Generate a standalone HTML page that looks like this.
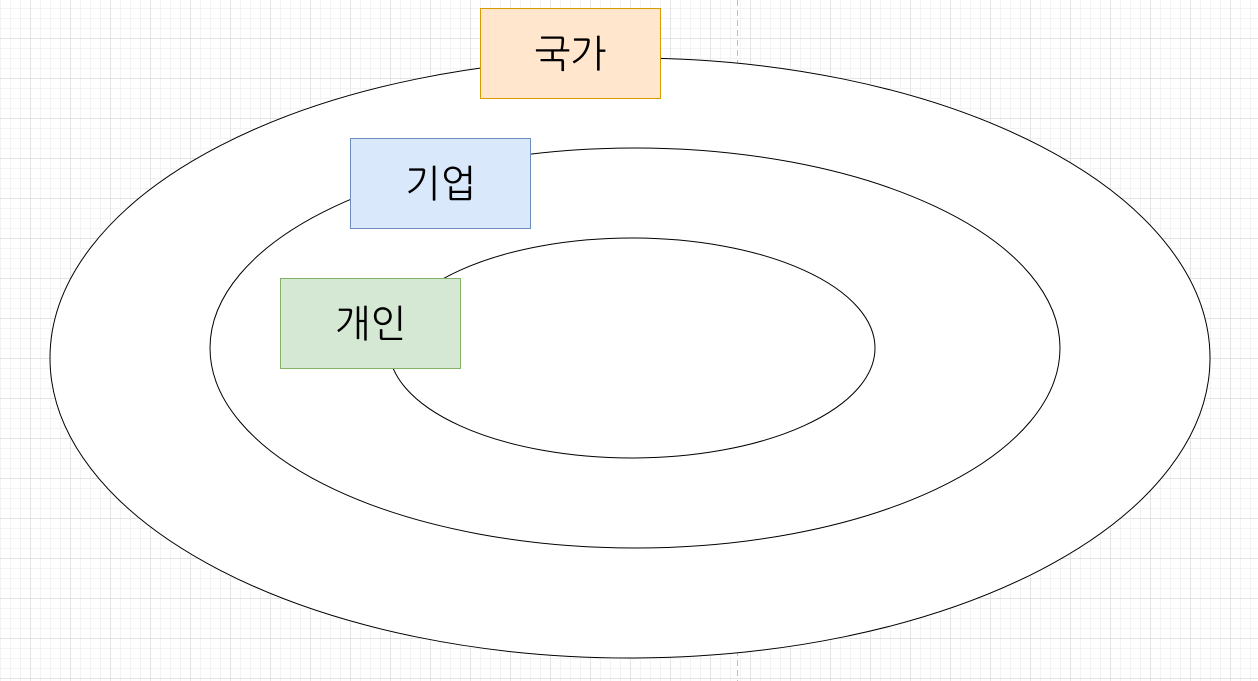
<!DOCTYPE html>
<html><head><meta charset="utf-8"><style>
html,body{margin:0;padding:0;width:1258px;height:681px;overflow:hidden;background:#fff}
.bg{position:absolute;left:0;top:0;width:1258px;height:681px;
background-image:
linear-gradient(to right,#e4e4e4 1px,transparent 1px),
linear-gradient(to bottom,#e4e4e4 1px,transparent 1px),
linear-gradient(to right,#f3f3f3 1px,transparent 1px),
linear-gradient(to bottom,#f3f3f3 1px,transparent 1px);
background-size:40px 40px,40px 40px,10px 10px,10px 10px;
background-position:30px 38px,30px 38px,0px 8px,0px 8px;}
.box{position:absolute;width:181px;height:91px;display:flex;align-items:center;justify-content:center;font-family:"Liberation Sans","NanumGothic","Noto Sans CJK KR",sans-serif;font-size:38px;color:#000;box-sizing:border-box}
</style></head><body>
<div class="bg"></div>
<svg style="position:absolute;left:0;top:0" width="1258" height="681">
<line x1="737.5" y1="0" x2="737.5" y2="681" stroke="#bbb" stroke-dasharray="6,4"/>
<ellipse cx="630" cy="358" rx="580" ry="300" fill="#fff" stroke="#000"/>
<ellipse cx="635" cy="348" rx="425" ry="200" fill="#fff" stroke="#000"/>
<ellipse cx="632" cy="348" rx="243" ry="110" fill="#fff" stroke="#000"/>
</svg>
<div class="box" style="left:480px;top:8px;background:#ffe6cc;border:1px solid #d79b00">국가</div>
<div class="box" style="left:350px;top:138px;background:#dae8fc;border:1px solid #6c8ebf">기업</div>
<div class="box" style="left:280px;top:278px;background:#d5e8d4;border:1px solid #82b366">개인</div>
</body></html>
